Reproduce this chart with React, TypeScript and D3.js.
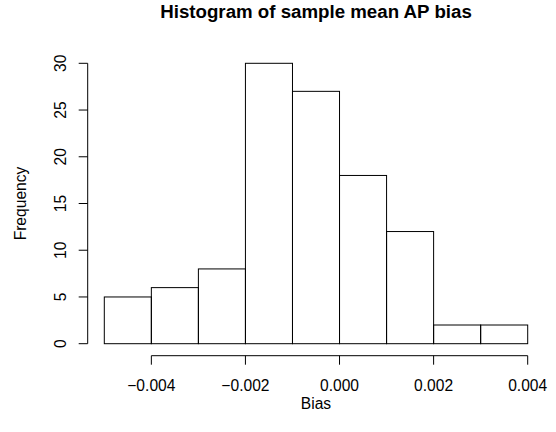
import React from 'react';
import * as d3 from 'd3';

const binStarts = [-0.005, -0.004, -0.003, -0.002, -0.001, 0.0, 0.001, 0.002, 0.003];
const binWidth = 0.001;
const counts = [5, 6, 8, 30, 27, 18, 12, 2, 2];
const xTicks = [-0.004, -0.002, 0.0, 0.002, 0.004];
const yTicks = [0, 5, 10, 15, 20, 25, 30];

const font = 'Liberation Sans, Arial, Helvetica, sans-serif';

export default function App() {
  const width = 556, height = 432;
  const x = d3.scaleLinear().domain([-0.005, 0.004]).range([104.3, 527.7]);
  const y = d3.scaleLinear().domain([0, 30]).range([343.7, 63.3]);
  const fmt = (v: number) => (v < 0 ? '\u2212' : '') + Math.abs(v).toFixed(3);
  const axisY = 355.7;
  const axisX = 87.7;

  return (
    <svg width={width} height={height} style={{ position: 'absolute', left: 0, top: 0 }}>
      <rect width={width} height={height} fill="white" />
      <text x={316} y={18} textAnchor="middle" fontFamily={font} fontWeight="bold" fontSize={18.7}>
        Histogram of sample mean AP bias
      </text>
      {counts.map((c, i) => (
        <rect key={i} x={x(binStarts[i])} y={y(c)} width={x(binStarts[i] + binWidth) - x(binStarts[i])}
          height={y(0) - y(c)} fill="none" stroke="black" strokeWidth={1} />
      ))}
      <g fontFamily={font} fontSize={15.6}>
        <line x1={x(xTicks[0])} x2={x(xTicks[xTicks.length - 1])} y1={axisY} y2={axisY} stroke="black" />
        {xTicks.map(t => (
          <g key={t}>
            <line x1={x(t)} x2={x(t)} y1={axisY} y2={axisY + 9} stroke="black" />
            <text x={x(t)} y={391} textAnchor="middle">{fmt(t)}</text>
          </g>
        ))}
        <line x1={axisX} x2={axisX} y1={y(yTicks[0])} y2={y(yTicks[yTicks.length - 1])} stroke="black" />
        {yTicks.map(t => (
          <g key={t}>
            <line x1={axisX} x2={axisX - 9} y1={y(t)} y2={y(t)} stroke="black" />
            <text transform={`translate(${axisX - 22},${y(t)}) rotate(-90)`} textAnchor="middle">{t}</text>
          </g>
        ))}
        <text x={316} y={409} textAnchor="middle">Bias</text>
        <text transform={`translate(26,${(343.7 + 63.3) / 2}) rotate(-90)`} textAnchor="middle">Frequency</text>
      </g>
    </svg>
  );
}
